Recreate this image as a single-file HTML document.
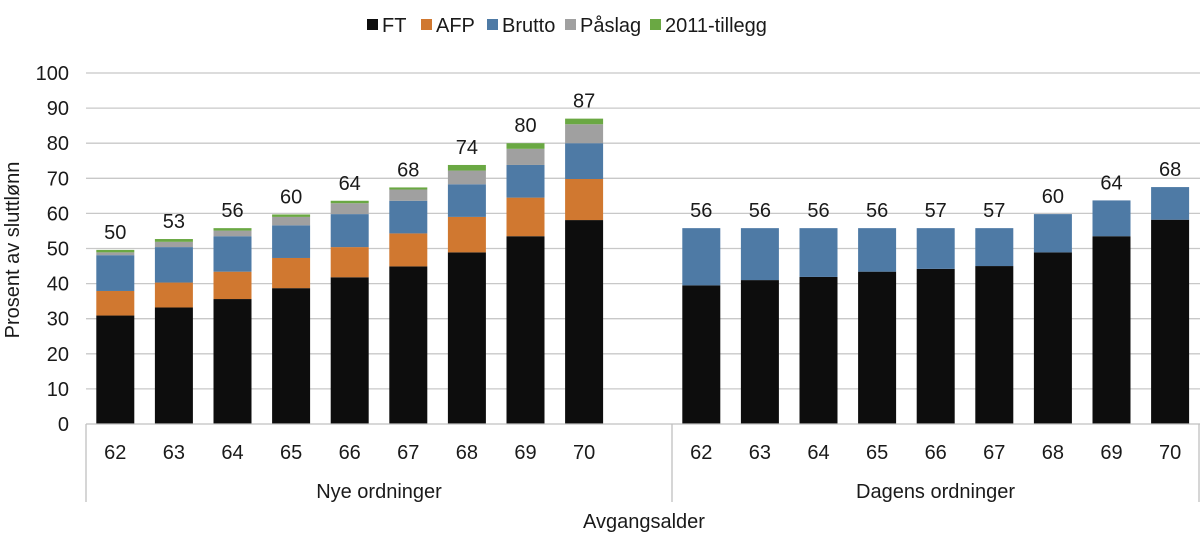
<!DOCTYPE html>
<html><head><meta charset="utf-8"><style>
html,body{margin:0;padding:0;background:#fff;}
svg{display:block;font-family:"Liberation Sans",Arial,sans-serif;}
</style></head><body>
<svg id="chart" width="1200" height="548" viewBox="0 0 1200 548" xmlns="http://www.w3.org/2000/svg">
<g id="legend"></g>
<g id="grid"></g>
<g id="bars"></g>
<g id="labels"></g>
<g id="axes"></g>
<text x="0" y="0" transform="translate(19,250) rotate(-90)" text-anchor="middle" font-size="20" fill="#1a1a1a">Prosent av sluttlønn</text>
<text x="644" y="528" text-anchor="middle" font-size="20" fill="#1a1a1a">Avgangsalder</text>
</svg>
<script>
const categories = ["62","63","64","65","66","67","68","69","70"];
const groups = ["Nye ordninger","Dagens ordninger"];
const seriesNames = ["FT","AFP","Brutto","Påslag","2011-tillegg"];
const newFT = [30.9,33.2,35.6,38.7,41.8,44.9,48.9,53.5,58.1];
const newAFP = [7.0,7.1,7.8,8.6,8.6,9.4,10.1,11.0,11.7];
const newBrutto = [10.2,10.1,10.1,9.3,9.4,9.3,9.3,9.3,10.2];
const newPaslag = [0.8,1.5,1.6,2.4,3.1,3.2,3.9,4.6,5.4];
const newTillegg = [0.7,0.8,0.7,0.7,0.7,0.6,1.6,1.6,1.6];
const newTotals = ["50","53","56","60","64","68","74","80","87"];
const curFT = [39.5,41.0,41.9,43.4,44.2,45.0,48.9,53.5,58.2];
const curBrutto = [16.3,14.8,13.9,12.4,11.6,10.8,10.9,10.2,9.3];
const curTotals = ["56","56","56","56","57","57","60","64","68"];
const yTicks = [0,10,20,30,40,50,60,70,80,90,100];

const NS="http://www.w3.org/2000/svg";
const colors=["#0d0d0d","#d07830","#4e7aa5","#a0a0a0","#6aa843"];
const y0=424, yTop=73;
function y(v){return y0-(v/100)*(y0-yTop);}
const axisX=86, slot=58.6;
const groupStart=[axisX, axisX+10*slot], groupEnd=[axisX+10*slot, 1199];
function x(g,i){
  const s=g===0?i:i+10;
  return axisX+(s+0.5)*slot;
}
const barW=38;
function mk(tag,attrs,parent){const e=document.createElementNS(NS,tag);for(const k in attrs)e.setAttribute(k,attrs[k]);parent.appendChild(e);return e;}

const grid=document.getElementById('grid');
const axes=document.getElementById('axes');
yTicks.forEach(t=>{
  if(t>0){
    const l=mk('line',{x1:axisX,x2:1200,y1:y(t),y2:y(t),stroke:'#c8c8c8','stroke-width':1.3},grid);
    
    
  }
  const tx=mk('text',{x:69,y:y(t)+7,'text-anchor':'end','font-size':20,fill:'#1a1a1a'},axes);
  tx.textContent=t;
  
  
});
const base=mk('line',{x1:axisX,x2:1200,y1:y0,y2:y0,stroke:'#c0c0c0','stroke-width':1.3},axes);


[axisX,groupStart[1],1199].forEach((vx,k)=>{
  const l=mk('line',{x1:vx,x2:vx,y1:y0,y2:502,stroke:'#c0c0c0','stroke-width':1.3},axes);
  
  
});
groups.forEach((g,gi)=>{
  const t=mk('text',{x:(groupStart[gi]+groupEnd[gi])/2,y:498,'text-anchor':'middle','font-size':20,fill:'#1a1a1a'},axes);
  t.textContent=g;
  
  
  categories.forEach((c,i)=>{
    const tt=mk('text',{x:x(gi,i),y:459,'text-anchor':'middle','font-size':20,fill:'#1a1a1a'},axes);
    tt.textContent=c;
    
    
  });
});

const bars=document.getElementById('bars');
const labels=document.getElementById('labels');
function drawStack(gi,i,vals,total){
  let acc=0;
  vals.forEach((v,s)=>{
    if(v==null)return;
    const r=mk('rect',{x:x(gi,i)-barW/2,y:y(acc+v),width:barW,height:y(acc)-y(acc+v),fill:colors[s]},bars);
    
    
    acc+=v;
  });
  const t=mk('text',{x:x(gi,i),y:y(acc)-11,'text-anchor':'middle','font-size':20,fill:'#1a1a1a'},labels);
  t.textContent=total;
  
  
}
categories.forEach((c,i)=>{
  drawStack(0,i,[newFT[i],newAFP[i],newBrutto[i],newPaslag[i],newTillegg[i]],newTotals[i]);
  drawStack(1,i,[curFT[i],null,curBrutto[i]],curTotals[i]);
});

const legend=document.getElementById('legend');
const legX=[367,421,487,565,650];
seriesNames.forEach((n,s)=>{
  const r=mk('rect',{x:legX[s],y:19,width:11,height:11,fill:colors[s]},legend);
  
  
  const t=mk('text',{x:legX[s]+15,y:32,'font-size':20,fill:'#1a1a1a'},legend);
  t.textContent=n;
  
  
});
</script>
</body></html>
